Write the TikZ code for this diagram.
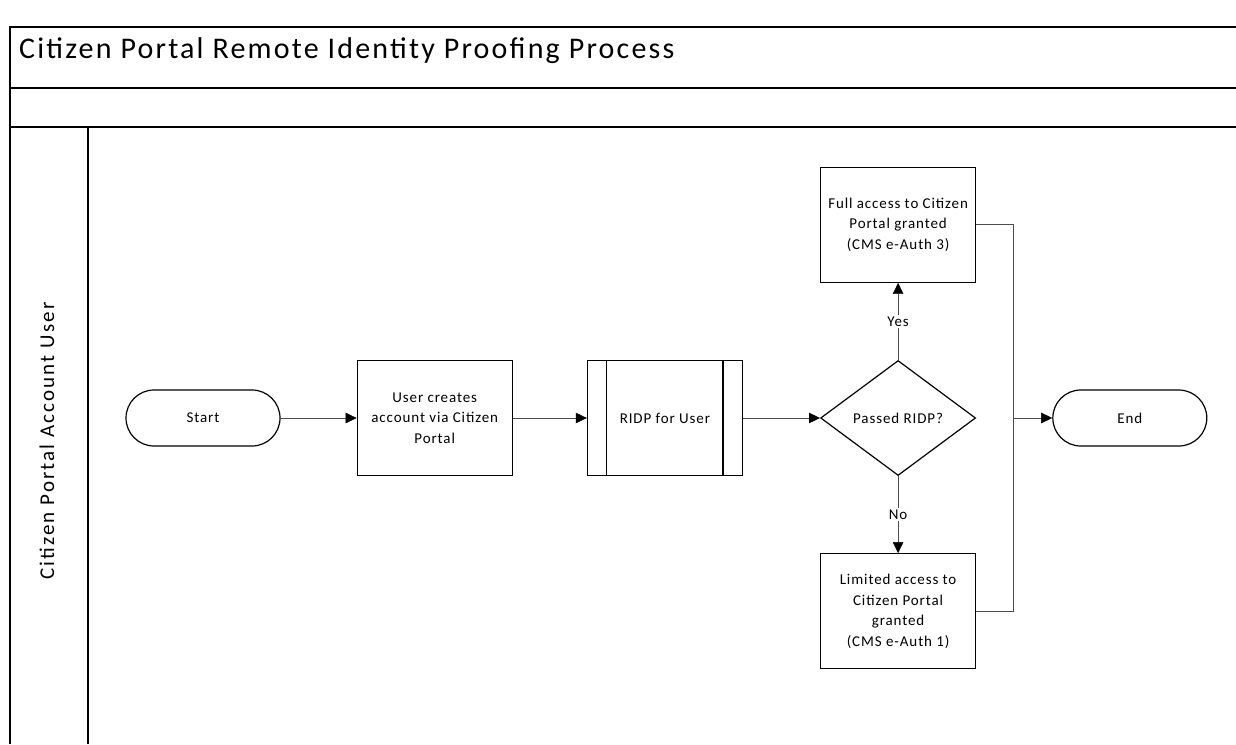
\documentclass[tikz,border=0pt]{standalone}
\usepackage{fontspec}
\setmainfont{Carlito}[LetterSpace=6]
\newfontfamily\titlefont{Carlito}[LetterSpace=7.3]
\newfontfamily\lanefont{Carlito}[LetterSpace=10]
\usetikzlibrary{shapes.geometric, positioning, arrows.meta}
\tikzset{%
  term/.style = {rectangle, rounded corners=28pt, draw, line width=1.2pt,
                 minimum width=154pt, minimum height=56pt, inner sep=0pt,
                 font=\fontsize{15pt}{20.5pt}\selectfont},
  proc/.style = {rectangle, draw, line width=1.2pt, minimum width=155pt,
                 minimum height=115pt, inner sep=0pt, align=center,
                 font=\fontsize{15pt}{20.5pt}\selectfont},
  decide/.style = {diamond, draw, line width=1.2pt, minimum width=155pt,
                 minimum height=115pt, inner sep=0pt,
                 font=\fontsize{15pt}{20.5pt}\selectfont},
  lane/.style = {line width=1.8pt},
  flow/.style = {color=black!70, line width=0.9pt},
  choice/.style = {fill=white, text=black, inner sep=2pt, font=\fontsize{15pt}{16pt}\selectfont},
  >={Triangle[length=11pt,width=10.5pt,color=black,fill=black,line width=0.4pt]}
}

\begin{document}
\begin{tikzpicture}[x=1pt, y=-1pt]
    \useasboundingbox (0,0) rectangle (1236,744);

    % pool and lane
    \draw[lane] (1236,27) -- (10,27) -- (10,744);
    \draw[lane] (10,88) -- (1236,88);
    \draw[lane] (10,127) -- (1236,127);
    \draw[lane] (88,127) -- (88,744);
    \node (title) [anchor=base west, inner sep=0pt, font=\titlefont\fontsize{30pt}{34pt}\selectfont]
          at (19,58) {Citizen Portal Remote Identity Proofing Process};
    \node (user)  [rotate=90, inner sep=0pt, font=\lanefont\fontsize{21pt}{24pt}\selectfont]
          at (47,441) {Citizen Portal Account User};

    \node (start)   [term] at (203,418)                {Start};
    \node (create)  [proc, right = 76pt of start]      {User creates\\account via Citizen\\Portal};
    \node (ridp)    [proc, right = 74pt of create]     {RIDP for User};
    \node (passed)  [decide, right = 77pt of ridp]     {Passed RIDP?};
    \node (full)    [proc, above = 77pt of passed]     {Full access to Citizen\\Portal granted\\(CMS e-Auth 3)};
    \node (limited) [proc, below = 77pt of passed]     {Limited access to\\Citizen Portal\\granted\\(CMS e-Auth 1)};
    \node (end)     [term, right = 76pt of passed]     {End};
    \coordinate (merge) at ([xshift=-39pt]end.west);

    \draw[line width=1.2pt] ([xshift=20pt]ridp.north west) -- ([xshift=20pt]ridp.south west)
                            ([xshift=-20pt]ridp.north east) -- ([xshift=-20pt]ridp.south east);

    \path[flow, ->] (start)   edge (create)
                    (create)  edge (ridp)
                    (ridp)    edge (passed)
                    (passed)  edge node[choice] {Yes} (full)
                              edge node[choice] {No} (limited)
                    (merge)   edge (end);
    \draw[flow] (full.east) -| (merge);
    \draw[flow] (limited.east) -| (merge);

\end{tikzpicture}
\end{document}
